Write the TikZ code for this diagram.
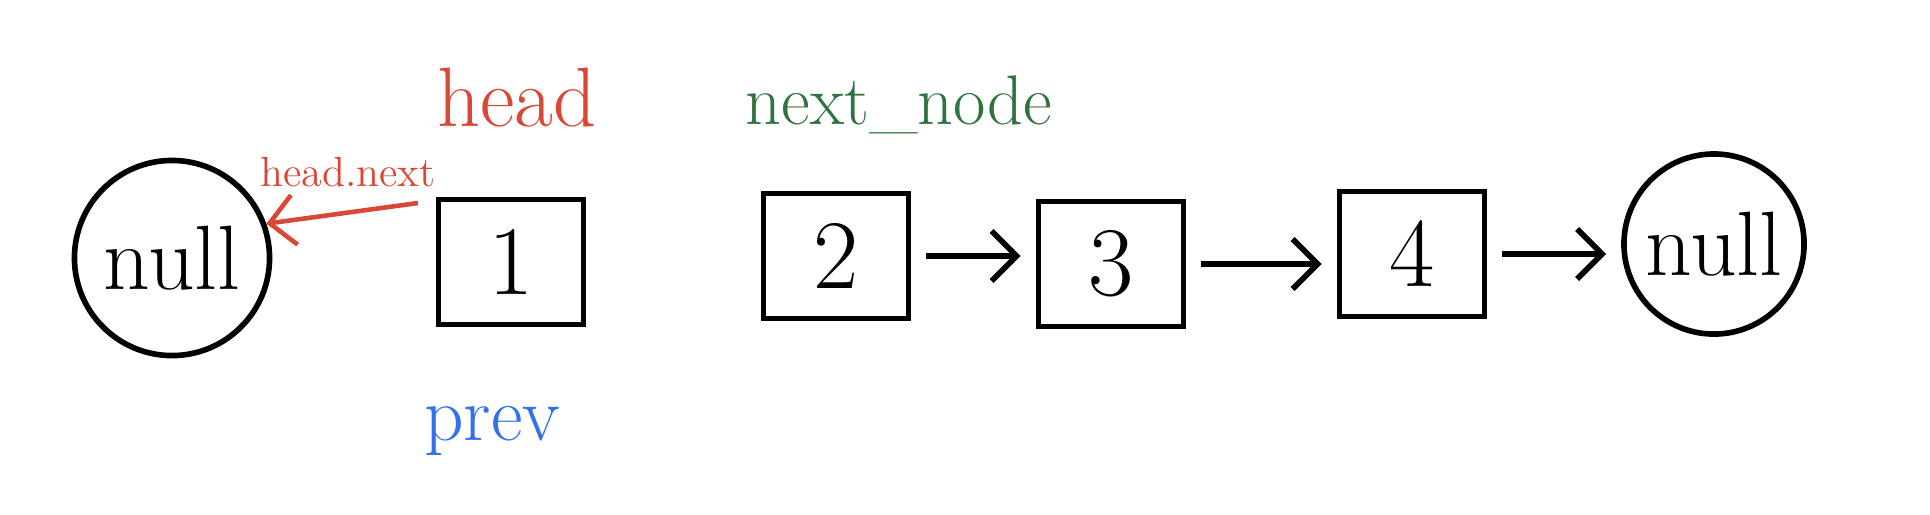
\documentclass[tikz,border=0pt]{standalone}
\usetikzlibrary{arrows.meta}
\definecolor{inkred}{RGB}{217,72,55}
\definecolor{inkgreen}{RGB}{47,115,62}
\definecolor{inkblue}{RGB}{50,112,240}
\begin{document}
\begin{tikzpicture}[x=0.01cm, y=-0.01cm,
                    every node/.style={inner sep=0pt},
                    listbox/.style={draw, line width=1.6pt, minimum width=1.45cm, minimum height=1.25cm, font=\fontsize{28}{30}\selectfont},
                    nullnode/.style={draw, circle, line width=1.6pt, font=\fontsize{26}{30}\selectfont},
                    link/.style={-{Straight Barb[length=2.5mm,width=5mm]}, line width=1.6pt, shorten <=1.5mm, shorten >=1.5mm}
]
\useasboundingbox (0,0) rectangle (1930,514);
%
\node [nullnode, minimum size=1.95cm] at (172,258) (nullL) {null};
\node [listbox] at (511,262) (box1) {1};
\node [listbox] at (836,256) (box2) {2};
\node [listbox] at (1111,264) (box3) {3};
\node [listbox] at (1412,254) (box4) {4};
\node [nullnode, minimum size=1.8cm] at (1714,244) (nullR) {null};
%
\node [inkred, font=\fontsize{24}{26}\selectfont] at (517,98) (head) {head};
\node [inkred, font=\fontsize{12}{14}\selectfont] at (348,172) (headnext) {head.next};
\node [inkgreen, font=\fontsize{20}{22}\selectfont] at (899,105) (nextnode) {next\_node};
\node [inkblue, font=\fontsize{22}{24}\selectfont] at (492,431) (prev) {prev};
%
\coordinate (hntail) at (418,203);
\draw [link, inkred, line width=1.3pt, shorten <=0pt, shorten >=0pt] (hntail) -- (nullL.20);
%
\draw [link] (box2.east) -- (box2.east -| box3.west);
\draw [link] (box3.east) -- (box3.east -| box4.west);
\draw [link] (box4.east) -- (box4.east -| nullR.west);
\end{tikzpicture}
\end{document}
